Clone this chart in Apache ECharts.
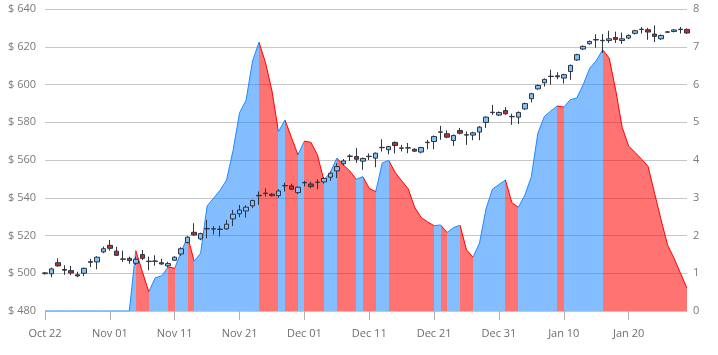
<!DOCTYPE html>
<html>
<head>
<meta charset="utf-8">
<script src="https://cdn.jsdelivr.net/npm/echarts@6/dist/echarts.min.js"></script>
<style>
html,body{margin:0;padding:0;background:#fff;}
#chart{width:718px;height:355px;}
</style>
</head>
<body>
<div id="chart"></div>
<script>
// first trading day of the daily series
const startDate = '2018-10-22';
// daily candles: [open, close, low, high]
const ohlc = [
  [499.8,500.2,499.3,500.6],[499.7,502.3,497.9,503.0],[505.6,503.9,503.5,507.9],[502.0,501.6,499.2,504.2],
  [501.4,500.1,499.0,503.9],[499.2,498.6,497.9,500.8],[500.0,502.6,498.5,503.0],[505.8,506.2,503.3,507.6],
  [506.0,508.5,502.1,509.0],[511.3,513.0,510.6,514.1],[514.8,513.2,512.0,517.6],[511.7,509.5,509.2,514.0],
  [507.4,507.6,506.0,512.0],[507.9,506.7,505.0,508.8],[505.3,507.4,504.4,508.8],[509.9,507.9,507.0,512.3],
  [506.2,506.4,501.6,508.8],[506.3,506.5,504.0,509.5],[505.6,504.9,504.5,507.7],[503.9,505.1,503.2,506.1],
  [506.9,508.5,506.5,509.0],[510.2,513.0,509.2,513.8],[516.3,519.1,515.8,519.6],[521.7,520.3,519.8,526.5],
  [518.2,521.0,517.5,521.5],[523.5,523.7,518.5,528.3],[523.4,523.6,520.5,525.0],[523.2,523.4,519.4,525.2],
  [523.5,526.0,523.0,528.3],[528.8,531.3,525.0,533.6],[531.5,533.5,529.7,536.2],[533.0,535.0,529.5,536.0],
  [535.7,538.5,534.5,539.0],[541.0,541.3,536.2,543.3],[542.2,542.5,540.6,545.0],[541.9,541.1,540.6,542.5],
  [541.1,543.6,540.0,544.5],[546.3,546.5,543.3,548.0],[546.3,544.5,544.0,547.5],[542.7,545.6,542.0,546.0],
  [547.9,548.1,546.0,549.0],[547.3,545.9,545.0,548.5],[548.1,548.3,544.5,549.8],[548.4,550.2,547.5,551.0],
  [550.9,553.0,549.0,554.0],[554.2,556.5,550.4,558.3],[558.0,559.5,557.0,560.5],[561.9,562.1,559.5,563.0],
  [561.8,560.4,558.5,566.3],[559.4,560.8,554.8,561.3],[561.8,562.0,560.0,563.5],[561.0,563.6,556.2,564.0],
  [566.5,566.7,564.5,571.0],[565.4,567.1,563.0,567.5],[569.3,567.7,563.5,569.8],[566.2,566.4,564.5,568.0],
  [566.3,566.5,563.6,569.0],[565.7,564.7,564.3,566.2],[564.2,566.6,563.5,567.0],[569.2,569.4,565.7,570.7],
  [569.8,572.4,565.7,573.0],[574.7,574.9,570.7,578.1],[573.9,572.1,571.5,575.7],[570.3,573.0,567.5,573.5],
  [575.6,574.2,573.5,577.0],[573.2,573.4,568.0,575.1],[573.2,574.4,570.5,575.0],[574.8,577.4,570.5,578.0],
  [579.9,582.7,577.0,583.2],[585.1,585.3,583.9,589.2],[583.8,585.2,583.3,585.7],[586.2,584.5,583.9,588.0],
  [582.9,583.1,578.6,584.5],[582.7,585.2,579.0,585.7],[587.1,589.9,586.5,590.4],[592.5,595.1,590.5,595.6],
  [597.7,599.5,597.2,600.0],[600.9,602.7,598.9,603.2],[604.2,604.4,599.9,607.8],[604.6,604.1,602.8,606.5],
  [603.4,605.2,600.5,605.7],[606.9,610.1,602.5,610.6],[613.0,615.8,612.5,616.3],[618.8,620.2,618.3,620.7],
  [621.6,622.8,621.1,623.3],[623.6,623.8,619.5,626.6],[623.2,623.4,616.7,626.7],[623.3,624.2,622.0,628.5],
  [624.9,623.9,622.0,628.0],[623.3,624.2,621.5,627.5],[624.6,626.0,624.0,626.5],[627.1,628.5,626.5,629.0],
  [629.1,629.3,627.0,630.5],[629.0,627.8,623.7,630.0],[626.7,625.5,622.5,631.3],[624.2,626.0,623.7,626.5],
  [627.7,627.9,627.3,628.3],[628.1,628.9,627.6,629.4],[629.1,629.3,627.0,630.5],[629.2,627.3,626.8,629.7]
];
// indicator plotted on the right axis
const indicator = [
  0,0,0,0,0,0,0,0,0,0,0,0,0,0,
  1.6,1.05,0.51,0.88,0.93,1.17,1.13,1.57,1.97,1.32,
  1.53,2.78,2.99,3.2,3.47,4.25,5.25,5.58,6.62,7.12,
  6.58,5.83,4.75,5.06,4.6,4.14,4.5,4.47,4.14,3.47,
  3.67,4.05,3.87,3.71,3.49,3.56,3.25,3.16,3.92,3.99,
  3.67,3.45,3.24,2.75,2.48,2.36,2.26,2.28,2.08,2.21,
  2.27,1.62,1.42,1.8,2.7,3.23,3.35,3.47,2.87,2.75,
  3.07,3.56,4.71,5.15,5.3,5.43,5.4,5.6,5.64,6.0,
  6.43,6.63,6.92,6.7,5.86,4.87,4.37,4.2,4.02,3.83,
  3.12,2.42,1.75,1.4,1.0,0.6
];
const priceTicks = { min: 480, max: 640, step: 20 };
const indicatorTicks = { min: 0, max: 8, step: 1 };

const MONTHS = ['Jan','Feb','Mar','Apr','May','Jun','Jul','Aug','Sep','Oct','Nov','Dec'];
const categories = [];
(function () {
  const d0 = new Date(startDate + 'T00:00:00Z');
  for (let i = 0; i < ohlc.length; i++) {
    const d = new Date(d0.getTime() + i * 86400000);
    const dd = String(d.getUTCDate()).padStart(2, '0');
    categories.push(MONTHS[d.getUTCMonth()] + ' ' + dd);
  }
})();

const UP = 'rgb(30,136,255)';
const DOWN = 'rgb(255,0,0)';
// segments coloured by direction of the indicator
const pieces = [];
(function () {
  let start = 0, cur = null;
  for (let i = 0; i < indicator.length - 1; i++) {
    const c = indicator[i + 1] < indicator[i] ? DOWN : UP;
    if (cur === null) { cur = c; start = i; }
    else if (c !== cur) {
      pieces.push({ start: start, end: i, color: cur });
      cur = c; start = i;
    }
  }
  pieces.push({ start: start, end: indicator.length - 1, color: cur });
})();
const vmPieces = pieces.map((p, k) => k === 0
  ? { gte: p.start, lte: p.end, color: p.color }
  : { gt: p.start, lte: p.end, color: p.color });

const FONT = 'Open Sans';
const chart = echarts.init(document.getElementById('chart'), null, { renderer: 'canvas' });
chart.setOption({
  animation: false,
  grid: { left: 45, right: 31, top: 9, bottom: 44 },
  xAxis: {
    type: 'category',
    data: categories,
    boundaryGap: false,
    axisLine: { show: false },
    axisTick: { show: true, interval: 9, length: 9, lineStyle: { color: '#b0b0b0' } },
    axisLabel: { interval: 9, color: '#6e6e6e', fontFamily: FONT, fontSize: 11, margin: 17 },
    splitLine: { show: false }
  },
  yAxis: [
    {
      type: 'value', min: priceTicks.min, max: priceTicks.max, interval: priceTicks.step,
      position: 'left',
      axisLine: { show: false }, axisTick: { show: false },
      axisLabel: { formatter: '$ {value}', color: '#7a7a7a', fontFamily: FONT, fontSize: 11, margin: 9 },
      splitLine: { show: true, lineStyle: { color: '#c6c6c6', width: 1 } }
    },
    {
      type: 'value', min: indicatorTicks.min, max: indicatorTicks.max, interval: indicatorTicks.step,
      position: 'right',
      axisLine: { show: false }, axisTick: { show: false },
      axisLabel: { color: '#7a7a7a', fontFamily: FONT, fontSize: 11, margin: 6 },
      splitLine: { show: false }
    }
  ],
  visualMap: {
    show: false,
    type: 'piecewise',
    seriesIndex: 0,
    dimension: 0,
    pieces: vmPieces
  },
  series: [
    {
      type: 'line',
      yAxisIndex: 1,
      data: indicator,
      showSymbol: false,
      symbol: 'none',
      lineStyle: { width: 1 },
      areaStyle: { opacity: 0.55 },
      z: 1
    },
    {
      type: 'candlestick',
      yAxisIndex: 0,
      data: ohlc,
      barWidth: 5,
      itemStyle: {
        color: '#80c0fb',
        color0: '#c42a30',
        borderColor: '#2d3640',
        borderColor0: '#2d3640',
        borderWidth: 1
      },
      z: 3
    }
  ]
});
</script>
</body>
</html>
